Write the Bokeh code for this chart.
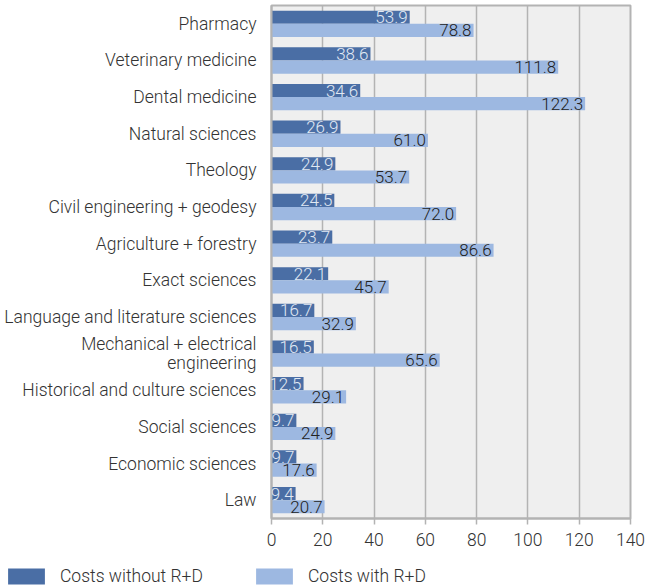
from bokeh.plotting import figure
from bokeh.models import ColumnDataSource, FactorRange, Legend, LegendItem, FixedTicker, LabelSet
from bokeh.layouts import column, row
from bokeh.transform import dodge
from bokeh.core.properties import value
from bokeh.embed import file_html
from bokeh.resources import INLINE

categories = ["Pharmacy", "Veterinary medicine", "Dental medicine", "Natural sciences",
              "Theology", "Civil engineering + geodesy", "Agriculture + forestry",
              "Exact sciences", "Language and literature sciences",
              "Mechanical + electrical\nengineering", "Historical and culture sciences",
              "Social sciences", "Economic sciences", "Law"]
without_rd = [53.9, 38.6, 34.6, 26.9, 24.9, 24.5, 23.7, 22.1, 16.7, 16.5, 12.5, 9.7, 9.7, 9.4]
with_rd = [78.8, 111.8, 122.3, 61.0, 53.7, 72.0, 86.6, 45.7, 32.9, 65.6, 29.1, 24.9, 17.6, 20.7]
x_ticks = [0, 20, 40, 60, 80, 100, 120, 140]
series_names = ["Costs without R+D", "Costs with R+D"]

DARK = "#4a6ea5"
LIGHT = "#9db8e1"
FONT = "Roboto Light"

src = ColumnDataSource(dict(
    cat=categories,
    a=without_rd,
    b=with_rd,
    a_lbl=[f"{v:.1f}" for v in without_rd],
    b_lbl=[f"{v:.1f}" for v in with_rd],
))

yr = FactorRange(*categories[::-1])
p = figure(width=650, height=560, y_range=yr,
           x_range=(0, 140), output_backend="svg", toolbar_location=None,
           min_border_left=271, min_border_right=20, min_border_top=5, min_border_bottom=42)

p.background_fill_color = "#efefef"
p.border_fill_color = "white"
p.outline_line_color = "#b3b3b3"
p.outline_line_width = 2

p.hbar(y=dodge("cat", 0.18, range=yr), right="a", left=0, height=0.36,
       source=src, color=DARK, line_color=None)
p.hbar(y=dodge("cat", -0.18, range=yr), right="b", left=0, height=0.36,
       source=src, color=LIGHT, line_color=None)

lab1 = LabelSet(x="a", y=dodge("cat", 0.18, range=yr), text="a_lbl", source=src,
                text_align="right", text_baseline="middle", x_offset=-2,
                text_font=value(FONT), text_font_size="17px", text_color="#e0e8f3")
lab2 = LabelSet(x="b", y=dodge("cat", -0.18, range=yr), text="b_lbl", source=src,
                text_align="right", text_baseline="middle", x_offset=-2,
                text_font=value(FONT), text_font_size="17px", text_color="#222222")
p.add_layout(lab1)
p.add_layout(lab2)

p.xaxis.ticker = FixedTicker(ticks=x_ticks)
p.xgrid.ticker = FixedTicker(ticks=x_ticks)
p.xgrid.grid_line_color = "#b3b3b3"
p.xgrid.grid_line_width = 1.5
p.ygrid.grid_line_color = None

for ax in (p.xaxis, p.yaxis):
    ax.axis_line_color = "#b3b3b3"
    ax.axis_line_width = 2
    ax.major_label_text_font = FONT
    ax.major_label_text_font_size = "17.5px"
    ax.major_label_text_color = "#333333"
    ax.minor_tick_line_color = None

p.xaxis.major_tick_line_color = "#b3b3b3"
p.xaxis.major_tick_line_width = 1.5
p.xaxis.major_tick_out = 6
p.xaxis.major_tick_in = 0
p.xaxis.major_label_standoff = 8
p.yaxis.major_tick_line_color = None
p.yaxis.major_tick_out = 0
p.yaxis.major_tick_in = 0
p.yaxis.major_label_standoff = 15
p.yaxis.major_label_text_line_height = 0.95

# legend figure (its renderers are hidden; they only give the legend its swatches)
lf = figure(width=650, height=26, output_backend="svg", toolbar_location=None,
            min_border=0, x_range=(0, 140), y_range=yr)
lf.axis.visible = False
lf.grid.visible = False
lf.outline_line_color = None
g1 = lf.hbar(y="cat", right="a", height=0.36, source=src, color=DARK, line_color=None, visible=False)
g2 = lf.hbar(y="cat", right="b", height=0.36, source=src, color=LIGHT, line_color=None, visible=False)
legend = Legend(items=[LegendItem(label=series_names[0], renderers=[g1]),
                       LegendItem(label=series_names[1], renderers=[g2])],
                location=(3, 0), orientation="horizontal",
                glyph_width=46, glyph_height=20, label_standoff=11, spacing=48,
                padding=0, margin=0, border_line_color=None, background_fill_alpha=0,
                label_height=20, click_policy="none",
                label_text_font=FONT, label_text_font_size="17.5px", label_text_color="#333333")
lf.add_layout(legend, "center")

layout = column(p, row(lf), spacing=0)
open("out.html", "w").write(file_html(layout, INLINE))
